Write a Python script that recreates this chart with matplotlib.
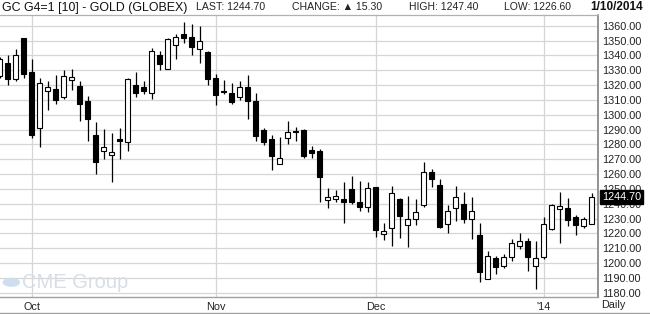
"""Daily candlestick chart of COMEX gold (GC G4), late Sep 2013 to 10 Jan 2014."""
import matplotlib
matplotlib.use("Agg")
import matplotlib.pyplot as plt  # noqa: E402
from matplotlib.patches import Circle  # noqa: E402
from matplotlib.lines import Line2D  # noqa: E402

# one entry per trading session, oldest first
opens = [1326.4, 1334.7, 1324.0, 1351.6, 1328.7, 1290.7, 1316.0, 1317.3, 1312.0, 1323.3,
         1319.6, 1308.9, 1286.2, 1275.3, 1272.7, 1283.3, 1281.8, 1320.0, 1318.9, 1314.4,
         1340.0, 1330.7, 1347.3, 1354.7, 1352.7, 1344.0, 1342.1, 1324.7, 1316.2, 1314.7,
         1312.0, 1318.7, 1309.3, 1290.0, 1283.3, 1266.7, 1284.0, 1289.1, 1289.7, 1276.0,
         1275.5, 1242.7, 1243.3, 1243.3, 1250.0, 1241.3, 1238.0, 1251.3, 1219.3, 1223.3,
         1243.3, 1225.3, 1230.0, 1239.3, 1261.3, 1252.9, 1226.0, 1237.3, 1240.0, 1230.0,
         1218.7, 1189.3, 1203.3, 1198.0, 1204.0, 1211.3, 1214.7, 1198.0, 1204.0, 1222.7,
         1236.7, 1237.3, 1231.3, 1224.7, 1226.6]
highs = [1339.0, 1340.0, 1344.2, 1352.0, 1337.3, 1324.9, 1322.7, 1326.9, 1330.0, 1330.9,
         1322.7, 1312.9, 1294.9, 1290.2, 1287.6, 1290.9, 1324.5, 1328.9, 1322.9, 1344.9,
         1342.9, 1352.0, 1354.7, 1362.2, 1360.9, 1360.0, 1343.0, 1327.3, 1323.3, 1321.3,
         1322.7, 1326.9, 1314.9, 1290.7, 1286.0, 1284.9, 1295.6, 1292.0, 1290.5, 1278.9,
         1276.7, 1250.7, 1249.3, 1254.7, 1258.9, 1255.6, 1254.7, 1251.5, 1226.7, 1252.2,
         1244.0, 1245.3, 1243.3, 1268.0, 1263.3, 1256.7, 1239.3, 1252.2, 1248.0, 1244.7,
         1226.7, 1208.0, 1204.7, 1206.0, 1216.4, 1220.0, 1216.7, 1214.7, 1231.3, 1240.0,
         1248.0, 1244.0, 1232.7, 1231.3, 1247.4]
lows = [1325.0, 1319.8, 1322.4, 1324.7, 1284.0, 1278.4, 1303.1, 1307.1, 1310.4, 1316.9,
        1295.8, 1282.5, 1260.0, 1270.2, 1254.5, 1270.2, 1275.8, 1311.8, 1314.2, 1310.4,
        1329.8, 1330.5, 1337.8, 1348.0, 1340.4, 1335.1, 1320.0, 1306.4, 1313.8, 1307.1,
        1309.8, 1297.1, 1282.4, 1279.8, 1262.4, 1266.5, 1280.0, 1282.0, 1270.5, 1270.6,
        1241.3, 1237.1, 1241.1, 1227.1, 1239.8, 1235.3, 1234.7, 1217.8, 1215.3, 1211.8,
        1217.1, 1211.1, 1225.3, 1238.0, 1251.3, 1223.3, 1220.0, 1228.0, 1227.3, 1216.0,
        1187.3, 1189.0, 1192.7, 1196.7, 1201.3, 1209.3, 1194.7, 1182.7, 1202.7, 1222.0,
        1213.3, 1224.7, 1218.7, 1223.3, 1226.6]
closes = [1337.3, 1324.0, 1340.0, 1327.1, 1286.4, 1321.3, 1318.7, 1309.8, 1326.0, 1325.6,
          1307.1, 1297.1, 1268.0, 1278.0, 1274.7, 1282.5, 1324.0, 1314.4, 1315.8, 1342.7,
          1334.0, 1350.7, 1352.7, 1351.8, 1345.3, 1350.0, 1323.9, 1313.3, 1315.0, 1308.4,
          1318.7, 1309.1, 1285.8, 1281.8, 1272.4, 1270.7, 1288.0, 1288.2, 1272.3, 1274.0,
          1258.2, 1244.7, 1245.3, 1241.1, 1241.1, 1238.0, 1250.7, 1222.0, 1221.3, 1247.3,
          1232.0, 1230.0, 1234.7, 1261.3, 1256.7, 1224.0, 1235.3, 1244.7, 1230.0, 1235.3,
          1194.0, 1204.7, 1197.3, 1204.0, 1213.3, 1214.7, 1204.0, 1203.3, 1226.0, 1239.3,
          1238.7, 1229.3, 1225.3, 1229.4, 1244.7]

# first session of each month, as an index into the lists above
month_starts = [4, 27, 47, 68]
month_labels = ["Oct", "Nov", "Dec", "'14"]
price_ticks = list(range(1180, 1361, 10))

last_price = 1244.70

W, H = 650, 314
FONT = ["Liberation Sans", "DejaVu Sans"]
plt.rcParams["font.family"] = FONT

fig = plt.figure(figsize=(W / 100, H / 100), dpi=100)
fig.patch.set_facecolor("white")


def fx(px):
    return px / W


def fy(py):
    return 1 - py / H


ax = fig.add_axes([0, fy(296.7), fx(597.5), fy(15) - fy(296.7)])
ax.set_xlim(0.06, 74.75)
ax.set_ylim(1177.3, 1367.2)

grid_c = "#d6d6d6"
for p in price_ticks:
    ax.axhline(p, color=grid_c, lw=0.9, zorder=0)
for m in month_starts:
    ax.axvline(m, color=grid_c, lw=0.9, zorder=0)

# candles: wick first, then the body on top
bw = 0.62
for i, (o, h, l, c) in enumerate(zip(opens, highs, lows, closes)):
    ax.vlines(i, l, h, color="black", lw=0.9, zorder=2)
    up = c >= o
    lo = min(o, c)
    ht = max(abs(c - o), 0.6)
    ax.bar(i, ht, bottom=lo, width=bw,
           color="white" if up else "black",
           edgecolor="black", linewidth=0.8, zorder=3)

ax.set_yticks(price_ticks)
ax.set_yticklabels([f"{p:.2f}" for p in price_ticks])
ax.yaxis.tick_right()
ax.tick_params(axis="y", length=0, pad=3, labelsize=7.8, labelcolor="#222222")
ax.set_xticks(month_starts)
ax.set_xticklabels(month_labels)
ax.tick_params(axis="x", length=0, pad=3.5, labelsize=7.8, labelcolor="#222222")

ax.spines["left"].set_visible(False)
ax.spines["top"].set_color("#b0b0b0")
ax.spines["top"].set_linewidth(0.9)
ax.spines["bottom"].set_color("#a0a0a0")
ax.spines["bottom"].set_linewidth(1.0)
ax.spines["right"].set_color("#808080")
ax.spines["right"].set_linewidth(1.2)

# last price tag on the axis (it covers part of the neighbouring labels, as in the original)
ax.annotate(f"{last_price:.2f}", xy=(1.0, last_price),
            xycoords=("axes fraction", "data"),
            xytext=(3.5, 0), textcoords="offset points",
            ha="left", va="center", fontsize=7.8, color="white",
            bbox=dict(boxstyle="square,pad=0.18", fc="black", ec="black"),
            annotation_clip=False, zorder=5)

# header line
hy = fy(7.5)
fig.text(fx(2), hy, "GC G4=1 [10] - GOLD (GLOBEX)", fontsize=8.9,
         ha="left", va="center", color="#111111")
fig.text(fx(195.5), hy, "LAST: 1244.70", fontsize=7.6, ha="left", va="center",
         color="#222222")
fig.text(fx(292.5), hy, "CHANGE: \u25b2 15.30", fontsize=7.6, ha="left",
         va="center", color="#222222")
fig.text(fx(409), hy, "HIGH: 1247.40", fontsize=7.5, ha="left", va="center",
         color="#222222")
fig.text(fx(504), hy, "LOW: 1226.60", fontsize=7.5, ha="left", va="center",
         color="#222222")
fig.text(fx(643), hy, "1/10/2014", fontsize=8.5, fontweight="bold",
         ha="right", va="center", color="#111111")

fig.text(fx(601.5), fy(305.5), "Daily", fontsize=7.8, ha="left", va="center",
         color="#222222")
fig.add_artist(Line2D([0, 1], [fy(313.3), fy(313.3)], color="#a0a0a0", lw=1.0))

# faded watermark in the lower left corner
fig.add_artist(Circle((fx(11.3), fy(282.3)), 8 / W, color="#cfdeec",
                      transform=fig.transFigure, zorder=1))
fig.text(fx(22), fy(282.5), "CME Group", fontsize=14.5, ha="left",
         va="center", color="#d8dee6", zorder=1)

fig.savefig("out.png", dpi=100)
